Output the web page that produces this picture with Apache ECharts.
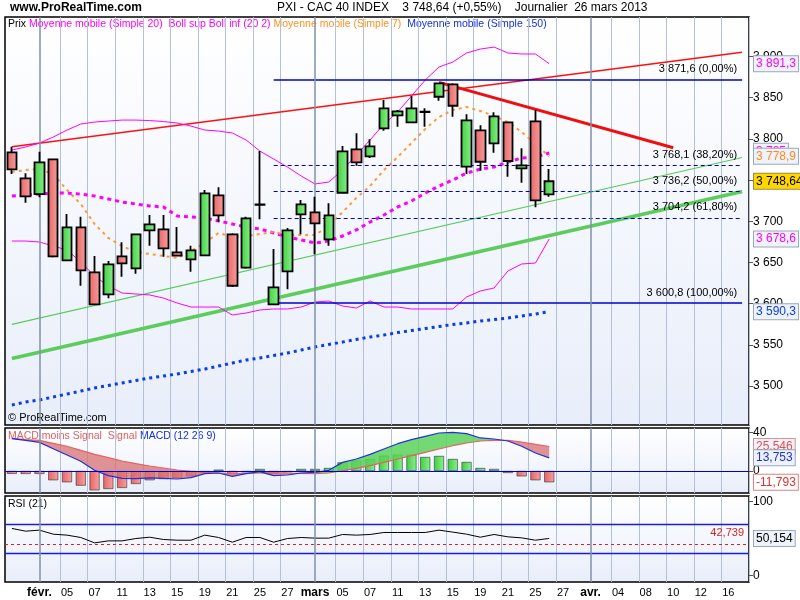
<!DOCTYPE html>
<html><head><meta charset="utf-8">
<script src="https://cdn.jsdelivr.net/npm/echarts@6/dist/echarts.min.js"></script>
<style>html,body{margin:0;padding:0;background:#fff}#c{width:800px;height:600px}</style>
</head><body><div id="c"></div>
<script>
const dates = ['2013-01-30','2013-01-31','2013-02-01','2013-02-04','2013-02-05','2013-02-06','2013-02-07','2013-02-08','2013-02-11','2013-02-12','2013-02-13','2013-02-14','2013-02-15','2013-02-18','2013-02-19','2013-02-20','2013-02-21','2013-02-22','2013-02-25','2013-02-26','2013-02-27','2013-02-28','2013-03-01','2013-03-04','2013-03-05','2013-03-06','2013-03-07','2013-03-08','2013-03-11','2013-03-12','2013-03-13','2013-03-14','2013-03-15','2013-03-18','2013-03-19','2013-03-20','2013-03-21','2013-03-22','2013-03-25','2013-03-26','2013-03-27','2013-03-28','2013-04-02','2013-04-03','2013-04-04','2013-04-05','2013-04-08','2013-04-09','2013-04-10','2013-04-11','2013-04-12','2013-04-15','2013-04-16','2013-04-17'];
const opens = [3783.7,3752.2,3733.1,3775.2,3652.7,3692.7,3638.1,3611.4,3657.5,3643.0,3689.1,3690.3,3662.4,3653.9,3658.7,3731.6,3684.2,3643.7,3720.1,3599.3,3639.3,3708.5,3710.9,3678.2,3734.7,3787.4,3778.9,3812.9,3828.6,3820.1,3832.6,3851.2,3866.3,3766.3,3810.4,3794.7,3820.1,3764.3,3821.4,3732.8];
const closes = [3763.0,3730.3,3771.6,3657.5,3692.7,3640.5,3599.3,3647.8,3649.0,3684.2,3696.4,3667.2,3658.3,3664.8,3734.0,3707.3,3621.8,3703.6,3720.5,3619.9,3689.1,3720.6,3697.6,3707.3,3785.0,3771.6,3791.0,3837.1,3833.5,3837.1,3833.0,3867.5,3840.3,3822.6,3772.3,3827.4,3773.2,3768.0,3725.5,3748.64];
const lows = [3757.4,3722.6,3729.1,3656,3652,3621.8,3599,3606.6,3632.8,3636.4,3670.4,3657,3657.5,3638.8,3658,3699.5,3620.3,3642.5,3702.4,3599,3617.5,3684.2,3660,3670.4,3734,3767.5,3777,3810,3814.8,3820,3814.8,3846.4,3826.9,3757.4,3761.4,3783.3,3754.1,3746.8,3717,3729.9];
const highs = [3790.5,3758.3,3784.5,3776,3708.9,3705.6,3657.9,3651.8,3674.5,3685,3707.6,3707.6,3693.1,3670.4,3738,3741.3,3685.4,3705.6,3785.3,3666.4,3691.9,3725.8,3729.9,3721.8,3791.4,3806.8,3799.5,3847.2,3835,3852,3837.1,3868.2,3867.5,3829.9,3816.5,3832.3,3820.1,3788.6,3835.1,3763.5];
const ma20 = [3730.7,3731.9,3733.1,3734.3,3734.3,3733.1,3730.7,3727.1,3723.4,3721.0,3718.6,3717.4,3706.5,3705.3,3704.1,3700.4,3696.8,3693.1,3690.7,3685.9,3681.0,3677.4,3673.7,3676.1,3682.2,3689.5,3699.2,3707.7,3717.4,3724.7,3734.3,3742.8,3750.1,3758.6,3763.4,3765.9,3771.9,3776.8,3778.0,3782.9];
const bollUp = [3786.5,3790.2,3795.0,3802.3,3810.8,3818.1,3820.5,3821.7,3822.9,3822.9,3822.3,3821.1,3819.3,3815.6,3810.8,3809.6,3807.2,3798.7,3785.3,3775.6,3765.9,3755.0,3745.3,3747.7,3762.2,3780.5,3798.7,3818.1,3832.6,3852.1,3871.5,3887.3,3893.3,3904.3,3909.1,3911.5,3904.3,3903.1,3903.1,3891.3];
const bollLow = [3676.1,3676.1,3674.9,3670.0,3665.2,3650.6,3633.6,3621.5,3613.0,3611.8,3610.6,3606.9,3600.8,3596.0,3596.0,3596.0,3586.3,3588.7,3592.4,3593.6,3593.6,3596.0,3602.1,3603.3,3597.2,3594.8,3603.3,3596.0,3596.0,3593.6,3593.6,3593.6,3593.6,3608.1,3615.4,3619.1,3639.7,3648.2,3649.4,3678.6];
const ma7 = [3759.8,3762.2,3763.4,3757.4,3738.0,3721.0,3696.8,3679.8,3670.0,3662.8,3660.4,3658.0,3655.5,3664.0,3673.7,3685.9,3681.0,3682.2,3684.6,3687.0,3683.4,3683.4,3683.4,3694.3,3711.3,3728.3,3742.8,3762.2,3778.0,3795.0,3812.0,3826.6,3835.1,3838.7,3833.9,3827.9,3820.5,3808.4,3793.8,3778.9];
const ma150 = [3477.1,3480.7,3483.1,3486.8,3490.4,3494.0,3497.7,3500.7,3503.8,3506.8,3509.8,3512.2,3514.7,3517.7,3520.7,3524.4,3528.0,3531.7,3534.1,3537.1,3540.2,3543.8,3547.5,3550.5,3553.5,3556.6,3559.6,3562.0,3565.0,3567.5,3569.9,3572.3,3574.8,3576.6,3579.0,3580.8,3582.6,3585.1,3587.5,3590.3];
// trend lines: [startIndex, startValue, endIndex, endValue]
const redTrendUp = [0,3790.4,53,3905.3];
const redTrendDown = [31,3868.7,48,3789.3];
const greenThin = [0,3574.9,53,3777.5];
const greenThick = [0,3533.6,53,3736.3];
const fibStart = 19;
const fibLevels = [3871.6,3768.1,3736.2,3704.2,3600.8];
const fibPct = ['0,00%','38,20%','50,00%','61,80%','100,00%'];
const macdHist = [-3.0,-3.1,-3.1,-9.7,-11.8,-15.3,-20.2,-18.8,-17.7,-13.6,-9.7,-8.4,-7.3,-5.6,-2.1,1.4,-3.1,-1.4,2.1,-2.8,-1.4,2.1,2.1,3.1,9.0,10.8,12.5,16.0,17.1,17.1,14.6,15.7,12.5,9.4,3.1,2.1,-2.1,-5.6,-9.7,-11.793];
const macdLine = [33.8,32.0,29.9,23.3,16.7,10.1,0.7,-4.9,-7.7,-8.0,-7.3,-7.7,-8.4,-7.0,-2.8,-2.1,-5.6,-2.8,-0.7,-4.9,-4.2,-2.1,-1.4,0.7,9.0,12.5,17.4,23.0,28.5,32.7,36.2,39.7,40.4,39.0,34.5,33.4,31.3,25.8,18.8,13.753];
const signalLine = [34.1,32.7,32.0,28.9,25.8,21.6,17.4,13.9,10.4,7.7,5.2,3.1,1.0,-0.3,-1.4,-2.1,-2.8,-2.4,-2.1,-1.7,-2.1,-2.4,-2.8,-2.1,0.3,2.8,5.6,9.0,12.5,16.0,19.5,23.0,26.4,29.2,31.3,32.0,32.0,30.3,27.8,25.546];
const rsi = [63.7,60.0,61.4,55.9,54.6,51.4,44.1,46.8,46.8,50.0,51.8,48.7,47.7,47.7,54.6,51.4,45.0,51.4,51.4,45.0,50.0,51.4,50.5,50.5,55.5,54.6,55.5,58.2,58.2,58.2,58.2,61.4,58.7,55.9,51.8,55.5,52.3,50.9,47.7,50.154];
const rsiRef = 42.739;
const mainTicks = [3500,3550,3600,3650,3700,3750,3800,3850,3900];

const N = dates.length;
function fmt(v, d){ let s=v.toFixed(d).split('.'); s[0]=s[0].replace(/\B(?=(\d{3})+(?!\d))/g,' '); return s.join(','); }
function line2(t){ const a=new Array(N).fill('-'); a[t[0]]=t[1]; a[t[2]]=t[3]; return a; }
const monthNames={'02':'févr.','03':'mars','04':'avr.'};
const monthStart = dates.map((d,i)=> i>0 && d.slice(5,7)!==dates[i-1].slice(5,7));
const darkIdx = dates.map((d,i)=>i).filter(i=>monthStart[i]);
const lblInt = (i)=> i>=2 && i%2===0;
const greenG = {type:'linear',x:0,y:0,x2:1,y2:0,colorStops:[{offset:0,color:'#3fcf3f'},{offset:1,color:'#8cee8c'}]};
const redG = {type:'linear',x:0,y:0,x2:1,y2:0,colorStops:[{offset:0,color:'#e86464'},{offset:1,color:'#f6a0a0'}]};
const bg = {type:'linear',x:0,y:0,x2:0,y2:1,colorStops:[{offset:0,color:'#ffffff'},{offset:1,color:'#e8eefa'}]};
const candle = opens.map((o,i)=>[o,closes[i],lows[i],highs[i]]);
const base = macdLine.map((m,i)=>Math.min(m,signalLine[i]));
const gFill = macdLine.map((m,i)=>Math.max(m-signalLine[i],0));
const rFill = macdLine.map((m,i)=>Math.max(signalLine[i]-m,0));
const histData = macdHist.map(v=>({value:v,itemStyle:{color:v>=0?greenG:redG}}));

const grids = [
 {left:5,width:744,top:17,height:408},
 {left:5,width:744,top:428,height:65},
 {left:5,width:744,top:496,height:86}
].map(g=>Object.assign(g,{show:true,borderColor:'#000',borderWidth:1.5,backgroundColor:bg}));
const xAxes = [0,1,2].map(k=>({type:'category',gridIndex:k,data:dates,boundaryGap:true,
  axisLine:{show:false},axisTick:{show:false},
  splitLine:{show:true,interval:(i)=>lblInt(i)&&!monthStart[i],lineStyle:{color:'#b4c0d8',width:1}},
  axisLabel: k===2 ? {show:true,interval:(i)=>lblInt(i),margin:5,color:'#000',fontFamily:'Liberation Sans',fontSize:11,
    formatter:(v,i)=>{ if(monthStart[i]) return '{m|'+monthNames[v.slice(5,7)]+'}'; return v.slice(8,10);},
    rich:{m:{fontWeight:'bold',fontSize:12,color:'#000',fontFamily:'Liberation Sans'}}} : {show:false}
}));
const yLbl = {color:'#000',fontSize:12,fontFamily:'Liberation Sans',margin:4};
const yAxes = [
 {type:'value',gridIndex:0,position:'right',min:3452.8,max:3948,splitLine:{show:false},axisLine:{show:false},
  axisTick:{show:true,customValues:mainTicks,length:4,lineStyle:{color:'#555'}},
  axisLabel:Object.assign({customValues:mainTicks,formatter:v=>fmt(v,0)},yLbl)},
 {type:'value',gridIndex:1,position:'right',min:-23,max:44.9,splitLine:{show:false},axisLine:{show:false},
  axisTick:{show:true,customValues:[40,0],length:4},axisLabel:Object.assign({customValues:[40,0]},yLbl)},
 {type:'value',gridIndex:2,position:'right',min:-9.1,max:107.8,splitLine:{show:false},axisLine:{show:false},
  axisTick:{show:true,customValues:[0,100],length:4},axisLabel:Object.assign({customValues:[0,100]},yLbl)}
];
function box(v,text,color,border,bgc){ return {yAxis:v,label:{show:true,position:'end',distance:5,formatter:text,color:color,backgroundColor:bgc||'#eef2fa',borderColor:border||'#9aa8b8',borderWidth:1,padding:[2,2,1,2],fontSize:12,fontFamily:'Liberation Sans'},lineStyle:{width:0.01,color:'rgba(0,0,0,0)'}}; }
const mlBase = {silent:true,symbol:['none','none'],animation:false};
const darkLines = ()=>({silent:true,symbol:['none','none'],label:{show:false},lineStyle:{color:'#8090a8',type:'solid',width:1.5},data:darkIdx.map(i=>({xAxis:i}))});

const fibData = fibLevels.map((v,j)=>[{coord:[fibStart,v],lineStyle:{color:'#0000cc',width:j===0||j===4?1.5:1.2,type:j===0||j===4?'solid':[4,3]}},{coord:[N-1,v],label:{show:true,position:'insideEndTop',formatter:fmt(v,1)+' ('+fibPct[j]+')',color:'#000',fontSize:11,fontFamily:'Liberation Sans'}}]);
const lnS = (data,color,width,type)=>({type:'line',xAxisIndex:0,yAxisIndex:0,data:data,symbol:'none',connectNulls:true,lineStyle:{color:color,width:width,type:type||'solid'},z:3,silent:true,animation:false});

const series = [
 Object.assign(lnS([],'#000',0),{markLine:Object.assign({},mlBase,{data:fibData})}),
 Object.assign(lnS([],'#000',0),{markLine:darkLines()}),
 lnS(line2(greenThin),'#5ccc5c',1.2),
 lnS(line2(greenThick),'#5ccc5c',3.5),
 lnS(line2(redTrendUp),'#ff1010',1.5),
 lnS(line2(redTrendDown),'#ee1010',3),
 lnS(ma150,'#0a3cf0',3,[3,4]),
 lnS(bollUp,'#ff00ff',1),
 lnS(bollLow,'#ff00ff',1),
 lnS(ma20,'#ff00ff',3,[4,4]),
 lnS(ma7,'#ff9a30',2,[3,4]),
 {type:'candlestick',xAxisIndex:0,yAxisIndex:0,data:candle,barWidth:10,z:5,animation:false,
  itemStyle:{color:greenG,color0:redG,borderColor:'#000',borderColor0:'#000',borderWidth:1.8},
  markLine:Object.assign({},mlBase,{data:[
    box(3891.3,'3 891,3','#ff00ff'),box(3785,'3 785','#ff00ff'),box(3778.9,'3 778,9','#ff8a20'),
    box(3748.64,'3 748,64','#000','#9a8a40','#ffd700'),box(3678.6,'3 678,6','#ff00ff'),box(3590.3,'3 590,3','#0a3cf0')]})},
 {type:'bar',xAxisIndex:1,yAxisIndex:1,data:histData,barWidth:10,animation:false,
  itemStyle:{borderColor:'#333',borderWidth:0.6},
  markLine:Object.assign({},mlBase,{data:[{yAxis:0,lineStyle:{color:'#0000cc',width:1.2,type:'solid'},label:{show:false}},
     box(25.546,'25,546','#e05050','#e09090'),box(13.753,'13,753','#2030e0'),
     box(-11.793,'-11,793','#e03030','#e08080','#fff')]})},
 {type:'line',xAxisIndex:1,yAxisIndex:1,data:base,stack:'f',stackStrategy:'all',symbol:'none',lineStyle:{width:0},animation:false},
 {type:'line',xAxisIndex:1,yAxisIndex:1,data:gFill,stack:'f',stackStrategy:'all',symbol:'none',lineStyle:{width:0},areaStyle:{color:'#5ad25a',opacity:0.85},animation:false},
 {type:'line',xAxisIndex:1,yAxisIndex:1,data:rFill,stack:'f',stackStrategy:'all',symbol:'none',lineStyle:{width:0},areaStyle:{color:'#d87070',opacity:0.75},animation:false},
 {type:'line',xAxisIndex:1,yAxisIndex:1,data:signalLine,symbol:'none',lineStyle:{color:'#e86060',width:1.2},animation:false},
 {type:'line',xAxisIndex:1,yAxisIndex:1,data:macdLine,symbol:'none',lineStyle:{color:'#2030e0',width:1.2},animation:false},
 {type:'line',xAxisIndex:1,yAxisIndex:1,data:[],symbol:'none',markLine:darkLines()},
 {type:'line',xAxisIndex:2,yAxisIndex:2,data:rsi,symbol:'none',lineStyle:{color:'#000',width:1},animation:false,
  markLine:Object.assign({},mlBase,{data:[
    {yAxis:70,lineStyle:{color:'#1a1ae0',width:1.3,type:'solid'},label:{show:false}},
    {yAxis:30,lineStyle:{color:'#1a1ae0',width:1.3,type:'solid'},label:{show:false}},
    {yAxis:rsiRef,lineStyle:{color:'#e02020',width:1,type:[3,3]},label:{show:true,position:'insideEndTop',formatter:'42,739',color:'#e02020',fontSize:11}},
    box(50.154,'50,154','#000')]})},
 {type:'line',xAxisIndex:2,yAxisIndex:2,data:[],symbol:'none',markLine:darkLines()}
];
const F = 'Liberation Sans';
const chart = echarts.init(document.getElementById('c'),null,{renderer:'canvas'});
chart.setOption({
 animation:false,
 grid:grids, xAxis:xAxes, yAxis:yAxes, series:series,
 graphic:[
  {type:'text',left:10,top:2,style:{text:'www.ProRealTime.com',font:'bold 12px '+F,fill:'#000'}},
  {type:'text',left:277,top:2,style:{text:'PXI - CAC 40 INDEX    3 748,64 (+0,55%)    Journalier  26 mars 2013',font:'12px '+F,fill:'#000'}},
  {type:'text',left:8,top:19,style:{rich:{a:{fill:'#000',font:'10.5px '+F},b:{fill:'#ff00ff',font:'10.5px '+F},c:{fill:'#ff9020',font:'10.5px '+F},d:{fill:'#1030e0',font:'10.5px '+F}},
    text:'{a|Prix }{b|Moyenne mobile (Simple 20)  Boll sup Boll inf (20 2) }{c|Moyenne mobile (Simple 7) }{d| Moyenne mobile (Simple 150)}'}},
  {type:'text',left:8,top:412,style:{text:'© ProRealTime.com',font:'11px '+F,fill:'#000'}},
  {type:'text',left:8,top:431,style:{rich:{a:{fill:'#e06060',font:'10.5px '+F},d:{fill:'#1030e0',font:'10.5px '+F}},text:'{a|MACD moins Signal  Signal }{d|MACD (12 26 9)}'}},
  {type:'text',left:8,top:499,style:{text:'RSI (21)',font:'10.5px '+F,fill:'#000'}}
 ]
});
</script></body></html>
